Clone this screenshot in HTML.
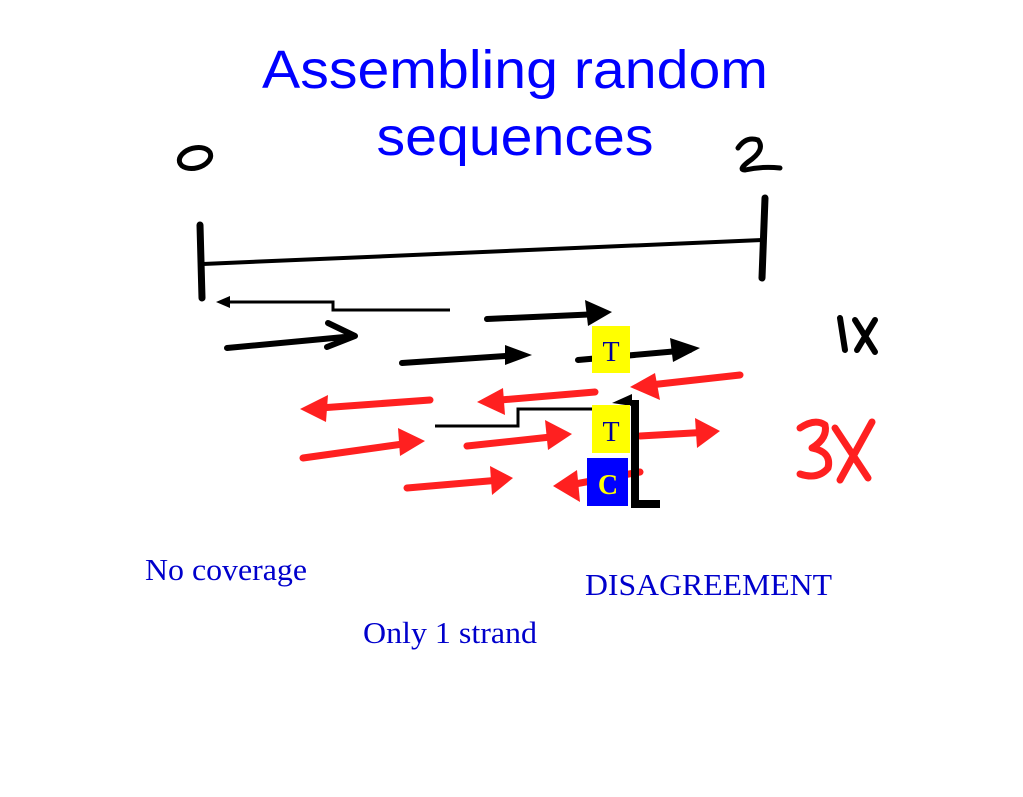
<!DOCTYPE html>
<html><head><meta charset="utf-8"><style>
html,body{margin:0;padding:0;background:#fff;}
svg{display:block;}
</style></head><body>
<svg width="1023" height="797" viewBox="0 0 1023 797" xmlns="http://www.w3.org/2000/svg">
<text x="515" y="88" text-anchor="middle" font-family="Liberation Sans, sans-serif" font-size="54" fill="#0000ff" textLength="506" lengthAdjust="spacingAndGlyphs">Assembling random</text>
<text x="515" y="155" text-anchor="middle" font-family="Liberation Sans, sans-serif" font-size="54" fill="#0000ff" textLength="277" lengthAdjust="spacingAndGlyphs">sequences</text>
<!-- 0 and 2 handwritten -->
<ellipse cx="195" cy="158" rx="16" ry="10" fill="none" stroke="#000" stroke-width="5" transform="rotate(-15 195 158)"/>
<path d="M738,148 Q746,136 758,140 Q766,150 748,162 Q738,170 745,170 Q762,166 780,168" fill="none" stroke="#000" stroke-width="5" stroke-linecap="round"/>
<!-- main line -->
<path d="M200,225 L202,298" stroke="#000" stroke-width="7" stroke-linecap="round"/>
<path d="M203,264 L762,240" stroke="#000" stroke-width="4"/>
<path d="M765,198 L762,278" stroke="#000" stroke-width="7" stroke-linecap="round"/>
<!-- black step connector -->
<path d="M450,310 L333,310 L333,302 L226,302" fill="none" stroke="#000" stroke-width="3"/>
<path d="M216,302 L230,296 L230,308 Z" fill="#000"/>
<!-- black hand arrows -->
<g stroke="#000" stroke-width="6" fill="none" stroke-linecap="round" stroke-linejoin="round">
<path d="M227,348 L355,336 M328,323 L355,336 L327,347"/>
<path d="M487,319 L600,314"/>
<path d="M402,363 L520,355"/>
<path d="M578,360 L690,350"/>
</g>
<g fill="#000">
<path d="M585,300 L612,312 L588,326 Z"/>
<path d="M505,345 L532,355 L505,365 Z"/>
<path d="M670,338 L700,348 L673,362 Z"/>
</g>
<!-- red arrows -->
<g stroke="#ff2020" stroke-width="7" fill="none" stroke-linecap="round">
<path d="M430,400 L320,408"/>
<path d="M595,392 L500,400"/>
<path d="M740,375 L650,385"/>
<path d="M303,458 L410,443"/>
<path d="M467,446 L560,436"/>
<path d="M640,436 L710,432"/>
<path d="M407,488 L500,480"/>
<path d="M640,472 L575,484"/>
</g>
<g fill="#ff2020">
<path d="M300,409 L328,395 L326,422 Z"/>
<path d="M477,402 L503,388 L505,415 Z"/>
<path d="M630,387 L655,373 L660,400 Z"/>
<path d="M425,441 L398,428 L400,456 Z"/>
<path d="M572,434 L545,420 L548,450 Z"/>
<path d="M720,431 L695,418 L697,448 Z"/>
<path d="M513,478 L490,466 L492,495 Z"/>
<path d="M553,486 L577,470 L580,502 Z"/>
</g>
<!-- black step line 2 -->
<path d="M435,426 L518,426 L518,409 L595,409" fill="none" stroke="#000" stroke-width="3"/>
<path d="M612,403 L632,394 L632,406 Z" fill="#000"/>
<!-- L bracket -->
<path d="M635,400 L635,504 L660,504" fill="none" stroke="#000" stroke-width="8"/>
<!-- boxes -->
<rect x="592" y="326" width="38" height="47" fill="#ffff00"/>
<text x="611" y="361" text-anchor="middle" font-family="Liberation Serif, serif" font-size="28" fill="#000099">T</text>
<rect x="592" y="405" width="38" height="48" fill="#ffff00"/>
<text x="611" y="441" text-anchor="middle" font-family="Liberation Serif, serif" font-size="28" fill="#000099">T</text>
<rect x="587" y="458" width="41" height="48" fill="#0000ff"/>
<text x="608" y="494" text-anchor="middle" font-family="Liberation Serif, serif" font-size="28" font-weight="bold" fill="#ffff00">C</text>
<!-- 1X 3X -->
<g stroke="#000" stroke-width="6" stroke-linecap="round" fill="none">
<path d="M840,318 L845,350"/>
<path d="M855,320 L875,352 M875,320 L857,350"/>
</g>
<g stroke="#ff2020" stroke-width="7" stroke-linecap="round" stroke-linejoin="round" fill="none">
<path d="M800,428 Q815,418 825,425 Q828,438 812,448 Q832,452 828,468 Q818,480 800,474"/>
<path d="M835,428 L868,478 M872,422 L840,480"/>
</g>
<text x="145" y="580" font-family="Liberation Serif, serif" font-size="31" fill="#0000cc" textLength="162" lengthAdjust="spacingAndGlyphs">No coverage</text>
<text x="585" y="595" font-family="Liberation Serif, serif" font-size="31" fill="#0000cc" textLength="247" lengthAdjust="spacingAndGlyphs">DISAGREEMENT</text>
<text x="363" y="643" font-family="Liberation Serif, serif" font-size="31" fill="#0000cc" textLength="174" lengthAdjust="spacingAndGlyphs">Only 1 strand</text>
</svg>
</body></html>
